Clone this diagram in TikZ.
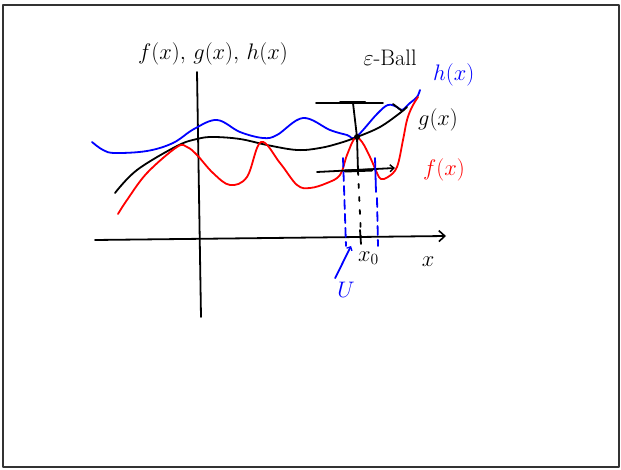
\documentclass[tikz,border=0pt]{standalone}
\usepackage{graphicx}
\usetikzlibrary{arrows.meta}
\newcommand\hwtext[1]{\scalebox{1.3}{\LARGE #1}}
\begin{document}
\begin{tikzpicture}[x=1pt,y=-1pt,line cap=round,line join=round,
  pen/.style={line width=1.8pt},
  lbl/.style={inner sep=0pt},
  bluedash/.style={pen,blue,dash pattern=on 9pt off 5pt}]
\useasboundingbox (0,0) rectangle (621,470);
\draw[line width=2pt,black!80] (3,5) rectangle (619,467);

% axes
\coordinate (xs) at (95,240);
\coordinate (xe) at (446,236);
\coordinate (ys) at (197,72);
\coordinate (ye) at (201,317);
\draw[pen,-{Straight Barb[length=6pt,width=11pt,line width=1.6pt]}] (xs) -- (xe);
\draw[pen] (ys) -- (ye);

% labels
\node[lbl] (axlab) at (213,54) {\hwtext{$f(x),\,g(x),\,h(x)$}};
\node[lbl] (eps) at (390,58) {\hwtext{$\varepsilon$-Ball}};
\node[lbl,blue,anchor=west] (hlab) at (433,75) {\hwtext{$h(x)$}};
\node[lbl,anchor=west] (glab) at (418,120) {\hwtext{$g(x)$}};
\node[lbl,red,anchor=west] (flab) at (423,170) {\hwtext{$f(x)$}};
\node[lbl,anchor=west] (x0) at (358,258) {\hwtext{$x_0$}};
\node[lbl] (xlab) at (428,262) {\hwtext{$x$}};
\node[lbl,blue] (ulab) at (346,290) {\hwtext{$U$}};

% h(x) blue
\draw[pen,blue] plot[smooth,tension=0.6] coordinates {
 (92,142) (103,150) (115,153) (147,151) (173,143) (194,129) (217,120) (240,132)
 (263,138) (277,135) (303,118) (330,130) (347,135) (356,137) (377,114) (388,105)
 (397,107) (402,110) (410,103) (417,97) (420,90)};

% g(x) black
\draw[pen] plot[smooth,tension=0.6] coordinates {
 (115,193) (137,170) (177,146) (197,139) (213,137) (240,139) (267,145) (297,150)
 (320,148) (340,143) (357,137) (380,127) (400,113) (407,107)};
\draw[pen] (393,104) -- (402,111);

% f(x) red
\draw[pen,red] plot[smooth,tension=0.6] coordinates {
 (118,214) (127,200) (147,173) (177,147) (187,147) (197,155) (213,173) (230,185)
 (247,177) (261,142) (280,163) (297,185) (310,188) (327,183) (340,175) (347,155)
 (355,138) (362,142) (370,157) (377,173) (381,179) (388,177) (397,167) (403,140)
 (407,120) (412,107) (418,97)};

% epsilon band
\coordinate (gx0) at (357,137);
\coordinate (tb) at (353,103);
\coordinate (bb) at (358,171);
\draw[pen] (316,103) -- (383,103);
\draw[line width=3pt] (340,103) -- (365,103);
\draw[pen] (tb) -- (gx0) -- (bb);
\draw[pen,-{Straight Barb[length=4pt,width=7pt,line width=1.4pt]}] (317,172) -- (395,168);
\draw[line width=3pt] (345,171) -- (372,170);
\fill (gx0) circle (3pt);

% x0 projection
\coordinate (x0a) at (361,236);
\draw[pen,dash pattern=on 4pt off 9pt] (bb) -- (x0a);
\draw[pen] (360,230) -- (361,244);

% U interval
\draw[bluedash] (343,158) -- (346,246);
\draw[pen,blue] (375,158) -- (376,192);
\draw[bluedash] (377,198) -- (378,246);

% U arrow
\coordinate (uarr) at (351,246);
\draw[pen,blue,-{Straight Barb[length=3pt,width=6pt,line width=1.3pt]}] (ulab.north west) ++(-2,-4) -- (uarr);
\end{tikzpicture}
\end{document}
